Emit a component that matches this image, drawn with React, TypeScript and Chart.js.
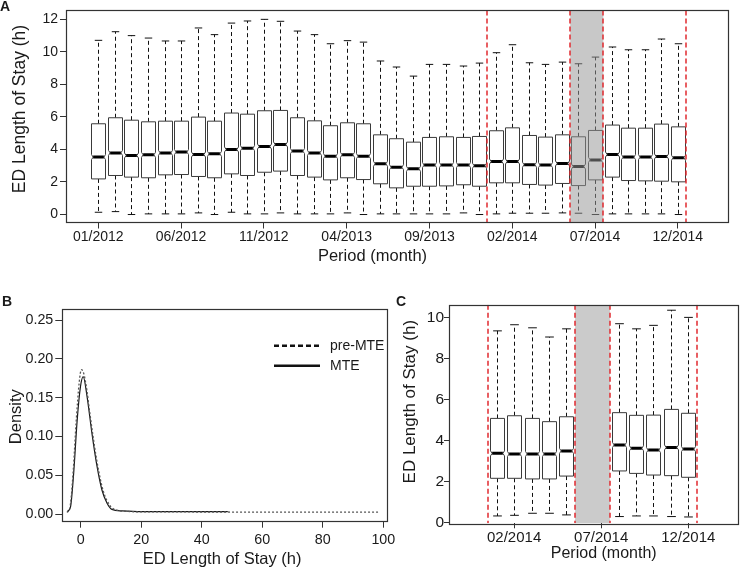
import { useEffect, useRef } from 'react';
import { Chart, registerables } from 'chart.js';

Chart.register(...registerables);

const FONT = "'Liberation Sans', Arial, Helvetica, sans-serif";
const INK = '#1a1a1a';
const FRAME = '#333333';
const RED = '#e0282e';

// ---------------- Panel A: monthly ED length of stay 2012-2014 ----------------
const monthsA = [
  '01/2012', '02/2012', '03/2012', '04/2012', '05/2012', '06/2012', '07/2012', '08/2012', '09/2012', '10/2012', '11/2012', '12/2012',
  '01/2013', '02/2013', '03/2013', '04/2013', '05/2013', '06/2013', '07/2013', '08/2013', '09/2013', '10/2013', '11/2013', '12/2013',
  '01/2014', '02/2014', '03/2014', '04/2014', '05/2014', '06/2014', '07/2014', '08/2014', '09/2014', '10/2014', '11/2014', '12/2014',
];
const aHigh = [10.71, 11.24, 11.0, 10.85, 10.67, 10.67, 11.47, 11.06, 11.77, 11.9, 12.0, 11.88, 11.28, 11.06, 10.5, 10.69, 10.6, 9.44, 9.07, 8.51, 9.23, 9.23, 9.13, 9.31, 9.95, 10.44, 9.33, 9.23, 9.37, 9.27, 9.68, 10.3, 10.13, 10.13, 10.79, 10.5];
const aQ3 = [5.58, 5.95, 5.8, 5.7, 5.74, 5.74, 5.99, 5.74, 6.24, 6.17, 6.38, 6.4, 5.95, 5.76, 5.46, 5.64, 5.58, 4.9, 4.66, 4.45, 4.74, 4.78, 4.74, 4.8, 5.15, 5.33, 4.86, 4.76, 4.9, 4.78, 5.17, 5.5, 5.31, 5.31, 5.56, 5.39];
const aMed = [3.53, 3.79, 3.63, 3.67, 3.79, 3.84, 3.69, 3.73, 4.0, 4.08, 4.18, 4.31, 3.9, 3.79, 3.59, 3.67, 3.59, 3.12, 2.91, 2.81, 3.04, 3.04, 3.04, 3.0, 3.26, 3.26, 3.06, 3.04, 3.14, 2.95, 3.36, 3.69, 3.53, 3.53, 3.57, 3.49];
const aQ1 = [2.19, 2.4, 2.3, 2.26, 2.44, 2.46, 2.34, 2.26, 2.5, 2.4, 2.6, 2.67, 2.4, 2.3, 2.13, 2.26, 2.15, 1.89, 1.64, 1.74, 1.74, 1.76, 1.83, 1.74, 1.95, 1.95, 1.85, 1.81, 1.91, 1.78, 2.13, 2.3, 2.09, 2.07, 2.05, 2.01];
const aLow = [0.14, 0.18, 0.0, 0.04, 0.04, 0.04, 0.1, 0.0, 0.14, 0.04, 0.04, 0.1, 0.04, 0.04, 0.04, 0.1, 0.0, 0.04, 0.04, 0.04, 0.04, 0.04, 0.1, 0.0, 0.04, 0.08, 0.08, 0.08, 0.1, 0.08, 0.0, 0.04, 0.04, 0.04, 0.04, 0.0];
const aPositions = monthsA.map((_, i) => i + 1);
const aTickMonths = [1, 6, 11, 16, 21, 26, 31, 36];
const aYTicks = [0, 2, 4, 6, 8, 10, 12];
const aShade = [29.5, 31.5];
const aRedLines = [24.5, 29.5, 31.5, 36.5];

// ---------------- Panel B: density of ED length of stay ----------------
const preX = [-4.5, -3.5, -2.5, -1.5, -0.5, 0.2, 1, 2, 3, 4, 5, 6, 7, 8, 9, 10, 12, 15, 20, 98.5];
const preY = [0.002, 0.01, 0.055, 0.12, 0.17, 0.186, 0.181, 0.16, 0.13, 0.102, 0.076, 0.054, 0.036, 0.023, 0.015, 0.009, 0.005, 0.0035, 0.0028, 0.0025];
const mteX = [-4.5, -3.4, -2.3, -1.2, -0.1, 0.8, 2.1, 3.7, 5.4, 7.0, 8.7, 10.3, 13.6, 20, 48.6];
const mteY = [0.003, 0.009, 0.055, 0.12, 0.164, 0.177, 0.151, 0.104, 0.061, 0.031, 0.014, 0.006, 0.004, 0.003, 0.003];
const bXTicks = [0, 20, 40, 60, 80, 100];
const bYTicks = [0, 0.05, 0.1, 0.15, 0.2, 0.25];
const bSeriesNames = ['pre-MTE', 'MTE'];

// ---------------- Panel C: 2014 only ----------------
const monthsC = ['01/2014', '02/2014', '03/2014', '04/2014', '05/2014', '06/2014', '07/2014', '08/2014', '09/2014', '10/2014', '11/2014', '12/2014'];
const cPositions = [1, 2, 3, 4, 5, 8, 9, 10, 11, 12];
const cHigh = [9.36, 9.66, 9.51, 9.06, 9.46, 9.71, 9.46, 9.63, 10.37, 10.02];
const cQ3 = [5.08, 5.21, 5.08, 4.92, 5.16, 5.36, 5.23, 5.24, 5.52, 5.33];
const cMed = [3.37, 3.34, 3.34, 3.34, 3.49, 3.78, 3.62, 3.53, 3.66, 3.58];
const cQ1 = [2.15, 2.15, 2.12, 2.12, 2.26, 2.51, 2.39, 2.31, 2.28, 2.2];
const cLow = [0.31, 0.34, 0.44, 0.44, 0.36, 0.28, 0.31, 0.31, 0.28, 0.26];
const cTickMonths = [2, 7, 12];
const cYTicks = [0, 2, 4, 6, 8, 10];
const cShade = [5.5, 7.5];
const cRedLines = [0.5, 5.5, 7.5, 12.5];

type Txt = { text: string; x: number; y: number; size: number; rot?: boolean; bold?: boolean; align?: CanvasTextAlign };
type Boxes = { pos: number[]; low: number[]; q1: number[]; med: number[]; q3: number[]; high: number[]; width: number; cap: number };
type Decor = {
  boxes?: Boxes;
  shade?: number[];
  shadeColor?: string;
  redLines?: number[];
  redWidth?: number;
  texts: Txt[];
  legend?: { x0: number; x1: number; tx: number; ys: number[]; dashes: number[][]; labels: string[] };
};

function drawText(ctx: CanvasRenderingContext2D, t: Txt) {
  ctx.save();
  ctx.fillStyle = INK;
  ctx.font = `${t.bold ? 'bold ' : ''}${t.size}px ${FONT}`;
  ctx.textAlign = t.align ?? 'center';
  ctx.textBaseline = t.bold ? 'alphabetic' : 'middle';
  ctx.translate(t.x, t.y);
  if (t.rot) ctx.rotate(-Math.PI / 2);
  ctx.fillText(t.text, 0, 0);
  ctx.restore();
}

function makeDecor(d: Decor) {
  return {
    id: 'decor',
    afterDatasetsDraw(chart: any) {
      const { ctx, chartArea: ca } = chart;
      const xs = chart.scales.x;
      const ys = chart.scales.y;
      ctx.save();
      ctx.beginPath();
      ctx.rect(ca.left, ca.top, ca.right - ca.left, ca.bottom - ca.top);
      ctx.clip();
      if (d.boxes) {
        const b = d.boxes;
        for (let i = 0; i < b.pos.length; i++) {
          const p = b.pos[i];
          const xc = Math.round(xs.getPixelForValue(p)) + 0.5;
          const hw = (xs.getPixelForValue(p + b.width / 2) - xs.getPixelForValue(p - b.width / 2)) / 2;
          const cw = (xs.getPixelForValue(p + b.cap / 2) - xs.getPixelForValue(p - b.cap / 2)) / 2;
          const yH = ys.getPixelForValue(b.high[i]);
          const y3 = ys.getPixelForValue(b.q3[i]);
          const yM = ys.getPixelForValue(b.med[i]);
          const y1 = ys.getPixelForValue(b.q1[i]);
          const yL = ys.getPixelForValue(b.low[i]);
          ctx.strokeStyle = '#111';
          ctx.lineWidth = 1;
          ctx.setLineDash([4, 3]);
          ctx.beginPath();
          ctx.moveTo(xc, y3);
          ctx.lineTo(xc, yH);
          ctx.moveTo(xc, y1);
          ctx.lineTo(xc, yL);
          ctx.stroke();
          ctx.setLineDash([]);
          ctx.beginPath();
          ctx.moveTo(xc - cw, yH);
          ctx.lineTo(xc + cw, yH);
          ctx.moveTo(xc - cw, yL);
          ctx.lineTo(xc + cw, yL);
          ctx.stroke();
          const n = 2.5;
          const ins = hw * 0.22;
          const l = Math.round(xc - hw) + 0.5;
          const r = Math.round(xc + hw) - 0.5;
          ctx.beginPath();
          ctx.moveTo(l, y3);
          ctx.lineTo(r, y3);
          ctx.lineTo(r, yM - n);
          ctx.lineTo(r - ins, yM);
          ctx.lineTo(r, yM + n);
          ctx.lineTo(r, y1);
          ctx.lineTo(l, y1);
          ctx.lineTo(l, yM + n);
          ctx.lineTo(l + ins, yM);
          ctx.lineTo(l, yM - n);
          ctx.closePath();
          ctx.fillStyle = '#ffffff';
          ctx.fill();
          ctx.strokeStyle = '#3a3a3a';
          ctx.lineWidth = 1;
          ctx.stroke();
          ctx.strokeStyle = '#000';
          ctx.lineWidth = 3;
          ctx.beginPath();
          ctx.moveTo(l + ins, yM);
          ctx.lineTo(r - ins, yM);
          ctx.stroke();
        }
      }
      if (d.shade) {
        const x0 = xs.getPixelForValue(d.shade[0]);
        const x1 = xs.getPixelForValue(d.shade[1]);
        ctx.fillStyle = d.shadeColor ?? '#ccc';
        ctx.fillRect(x0, ca.top, x1 - x0, ca.bottom - ca.top);
      }
      if (d.redLines) {
        ctx.strokeStyle = RED;
        ctx.lineWidth = d.redWidth ?? 1;
        ctx.setLineDash([5, 3]);
        for (const v of d.redLines) {
          const x = Math.round(xs.getPixelForValue(v));
          ctx.beginPath();
          ctx.moveTo(x, ca.top);
          ctx.lineTo(x, ca.bottom);
          ctx.stroke();
        }
        ctx.setLineDash([]);
      }
      ctx.restore();
      ctx.save();
      ctx.strokeStyle = FRAME;
      ctx.lineWidth = 1.2;
      ctx.strokeRect(Math.round(ca.left) + 0.5, Math.round(ca.top) + 0.5, Math.round(ca.right - ca.left), Math.round(ca.bottom - ca.top));
      ctx.restore();
      if (d.legend) {
        const g = d.legend;
        ctx.save();
        ctx.strokeStyle = '#111';
        ctx.lineWidth = 2.5;
        g.ys.forEach((y, i) => {
          ctx.setLineDash(g.dashes[i]);
          ctx.beginPath();
          ctx.moveTo(g.x0, y);
          ctx.lineTo(g.x1, y);
          ctx.stroke();
          drawText(ctx, { text: g.labels[i], x: g.tx, y, size: 14, align: 'left' });
        });
        ctx.restore();
      }
      d.texts.forEach((t) => drawText(ctx, t));
    },
  };
}

function axisCommon(tickLen: number) {
  return {
    grid: { display: true, drawOnChartArea: false, drawTicks: true, tickLength: tickLen, color: FRAME, tickColor: FRAME, lineWidth: 1 },
    border: { display: false },
  };
}

const baseOptions = {
  animation: false,
  responsive: false,
  maintainAspectRatio: false,
  devicePixelRatio: 1,
  events: [],
};
const noPlugins = { legend: { display: false }, title: { display: false }, tooltip: { enabled: false } };

function configA(): any {
  return {
    type: 'scatter',
    data: {
      datasets: [{ label: 'median', data: aPositions.map((p, i) => ({ x: p, y: aMed[i] })), pointRadius: 0, showLine: false }],
    },
    options: {
      ...baseOptions,
      layout: { padding: { left: 0, top: 10, right: 14.5, bottom: 304.5 } },
      plugins: noPlugins,
      scales: {
        x: {
          type: 'linear', position: 'bottom', min: -0.95, max: 39.0,
          afterBuildTicks: (s: any) => { s.ticks = aTickMonths.map((v) => ({ value: v })); },
          afterFit: (s: any) => { s.height = 40; },
          ticks: { callback: (v: any) => monthsA[Number(v) - 1] ?? '', font: { size: 14, lineHeight: 1 }, color: INK, padding: 1.5, maxRotation: 0, autoSkip: false },
          ...axisCommon(6),
        },
        y: {
          type: 'linear', position: 'left', min: -0.49, max: 12.55,
          afterBuildTicks: (s: any) => { s.ticks = aYTicks.map((v) => ({ value: v })); },
          afterFit: (s: any) => { s.width = 66; },
          ticks: { callback: (v: any) => String(v), font: { size: 14 }, color: INK, padding: 2 },
          ...axisCommon(6),
        },
      },
    },
    plugins: [makeDecor({
      boxes: { pos: aPositions, low: aLow, q1: aQ1, med: aMed, q3: aQ3, high: aHigh, width: 0.9, cap: 0.45 },
      shade: aShade,
      shadeColor: 'rgba(150,150,150,0.52)',
      redLines: aRedLines,
      redWidth: 1.5,
      texts: [
        { text: 'A', x: 0, y: 11, size: 14, bold: true, align: 'left' },
        { text: 'Period (month)', x: 372.5, y: 256, size: 16.5 },
        { text: 'ED Length of Stay (h)', x: 20, y: 109, size: 17.5, rot: true },
      ],
    })],
  };
}

function configB(): any {
  return {
    type: 'scatter',
    data: {
      datasets: [
        {
          label: bSeriesNames[0], data: preX.map((x, i) => ({ x, y: preY[i] })), showLine: true,
          borderColor: '#555', borderWidth: 1.3, borderDash: [2, 2], pointRadius: 0, fill: false, cubicInterpolationMode: 'monotone',
        },
        {
          label: bSeriesNames[1], data: mteX.map((x, i) => ({ x, y: mteY[i] })), showLine: true,
          borderColor: '#1a1a1a', borderWidth: 1.2, pointRadius: 0, fill: false, cubicInterpolationMode: 'monotone',
        },
      ],
    },
    options: {
      ...baseOptions,
      layout: { padding: { left: 0, top: 309, right: 354.3, bottom: 16.3 } },
      plugins: noPlugins,
      scales: {
        x: {
          type: 'linear', position: 'bottom', min: -6.1, max: 101.45,
          afterBuildTicks: (s: any) => { s.ticks = bXTicks.map((v) => ({ value: v })); },
          afterFit: (s: any) => { s.height = 30; },
          ticks: { callback: (v: any) => String(v), font: { size: 14.3, lineHeight: 1 }, color: INK, padding: 5, maxRotation: 0, autoSkip: false },
          ...axisCommon(7),
        },
        y: {
          type: 'linear', position: 'left', min: -0.0086, max: 0.2642,
          afterBuildTicks: (s: any) => { s.ticks = bYTicks.map((v) => ({ value: v })); },
          afterFit: (s: any) => { s.width = 62.3; },
          ticks: { callback: (v: any) => Number(v).toFixed(2), font: { size: 14.3 }, color: INK, padding: 2 },
          ...axisCommon(7),
        },
      },
    },
    plugins: [makeDecor({
      texts: [
        { text: 'B', x: 2, y: 305.5, size: 14, bold: true, align: 'left' },
        { text: 'ED Length of Stay (h)', x: 222.2, y: 559, size: 16.5 },
        { text: 'Density', x: 16, y: 416.7, size: 16.5, rot: true },
      ],
      legend: { x0: 274, x1: 320, tx: 330, ys: [345.7, 365.7], dashes: [[5, 3], []], labels: bSeriesNames },
    })],
  };
}

function configC(): any {
  return {
    type: 'scatter',
    data: {
      datasets: [{ label: 'median', data: cPositions.map((p, i) => ({ x: p, y: cMed[i] })), pointRadius: 0, showLine: false }],
    },
    options: {
      ...baseOptions,
      layout: { padding: { left: 409, top: 304.7, right: 4.3, bottom: 23.7 } },
      plugins: noPlugins,
      scales: {
        x: {
          type: 'linear', position: 'bottom', min: -1.74, max: 14.84,
          afterBuildTicks: (s: any) => { s.ticks = cTickMonths.map((v) => ({ value: v })); },
          afterFit: (s: any) => { s.height = 20; },
          ticks: { callback: (v: any) => monthsC[Number(v) - 1] ?? '', font: { size: 15, lineHeight: 1 }, color: INK, padding: 2.5, maxRotation: 0, autoSkip: false },
          ...axisCommon(5),
        },
        y: {
          type: 'linear', position: 'left', min: -0.05, max: 10.64,
          afterBuildTicks: (s: any) => { s.ticks = cYTicks.map((v) => ({ value: v })); },
          afterFit: (s: any) => { s.width = 40; },
          ticks: { callback: (v: any) => String(v), font: { size: 15.5 }, color: INK, padding: 0 },
          ...axisCommon(5),
        },
      },
    },
    plugins: [makeDecor({
      boxes: { pos: cPositions, low: cLow, q1: cQ1, med: cMed, q3: cQ3, high: cHigh, width: 0.87, cap: 0.5 },
      shade: cShade,
      shadeColor: '#cbcbcb',
      redLines: cRedLines,
      redWidth: 1.5,
      texts: [
        { text: 'C', x: 396, y: 305.5, size: 14, bold: true, align: 'left' },
        { text: 'Period (month)', x: 603.7, y: 554, size: 16 },
        { text: 'ED Length of Stay (h)', x: 410, y: 401.7, size: 17, rot: true },
      ],
    })],
  };
}

export default function App() {
  const refA = useRef<HTMLCanvasElement>(null);
  const refB = useRef<HTMLCanvasElement>(null);
  const refC = useRef<HTMLCanvasElement>(null);

  useEffect(() => {
    Chart.defaults.font.family = FONT;
    Chart.defaults.color = INK;
    const charts = [
      new Chart(refA.current as HTMLCanvasElement, configA()),
      new Chart(refB.current as HTMLCanvasElement, configB()),
      new Chart(refC.current as HTMLCanvasElement, configC()),
    ];
    return () => charts.forEach((c) => c.destroy());
  }, []);

  const cv: any = { position: 'absolute', left: 0, top: 0, width: 742, height: 567 };
  return (
    <div style={{ position: 'fixed', left: 0, top: 0, width: 742, height: 567, background: '#ffffff' }}>
      <canvas ref={refA} width={742} height={567} style={cv} />
      <canvas ref={refB} width={742} height={567} style={cv} />
      <canvas ref={refC} width={742} height={567} style={cv} />
    </div>
  );
}
